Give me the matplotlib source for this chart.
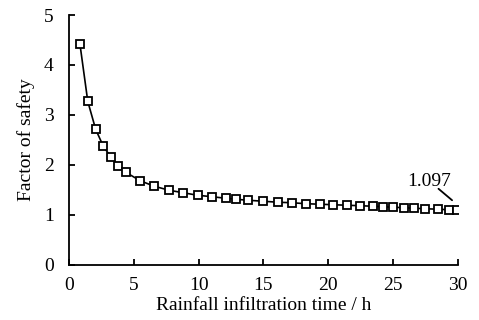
import matplotlib
matplotlib.use("Agg")
import matplotlib.pyplot as plt

time_h = [0.85, 1.45, 2.06, 2.65, 3.25, 3.79, 4.38, 5.5, 6.58, 7.73, 8.81, 9.92,
          11.05, 12.08, 12.85, 13.82, 14.98, 16.12, 17.19, 18.31, 19.39, 20.39,
          21.43, 22.48, 23.42, 24.21, 25.0, 25.83, 26.62, 27.45, 28.48, 29.3, 29.9]
fos = [4.41, 3.27, 2.71, 2.37, 2.15, 1.98, 1.85, 1.68, 1.57, 1.49, 1.44, 1.39,
       1.36, 1.33, 1.31, 1.29, 1.27, 1.25, 1.24, 1.22, 1.21, 1.20, 1.19, 1.18,
       1.17, 1.16, 1.15, 1.14, 1.13, 1.12, 1.11, 1.10, 1.097]
x_ticks = [0, 5, 10, 15, 20, 25, 30]
y_ticks = [0, 1, 2, 3, 4, 5]

plt.rcParams['font.family'] = ['Liberation Serif', 'DejaVu Serif']
fig = plt.figure(figsize=(4.79, 3.2), dpi=100)
ax = fig.add_axes([0.144, 0.173, 0.812, 0.780])
ax.plot(time_h, fos, color='black', lw=1.2, marker='s', markersize=6.0,
        markerfacecolor='white', markeredgecolor='black', markeredgewidth=1.3)
ax.set_xlim(0, 30)
ax.set_ylim(0, 5)
ax.set_xticks(x_ticks)
ax.set_yticks(y_ticks)
for s in ['top', 'right']:
    ax.spines[s].set_visible(False)
for s in ['left', 'bottom']:
    ax.spines[s].set_linewidth(1.3)
ax.tick_params(direction='in', length=4, width=1.3, labelsize=14)
ax.tick_params(axis='x', pad=9)
ax.tick_params(axis='y', pad=11)
ax.set_xlabel('Rainfall infiltration time / h', fontsize=14, labelpad=2)
ax.set_ylabel('Factor of safety', fontsize=14, labelpad=6)
ax.text(27.8, 1.67, '1.097', fontsize=14, ha='center', va='center')
ax.annotate('', xy=(29.55, 1.29), xytext=(28.5, 1.52),
            arrowprops=dict(arrowstyle='-', color='black', lw=1.3, shrinkA=0, shrinkB=0))
fig.savefig('out.png', dpi=100)
